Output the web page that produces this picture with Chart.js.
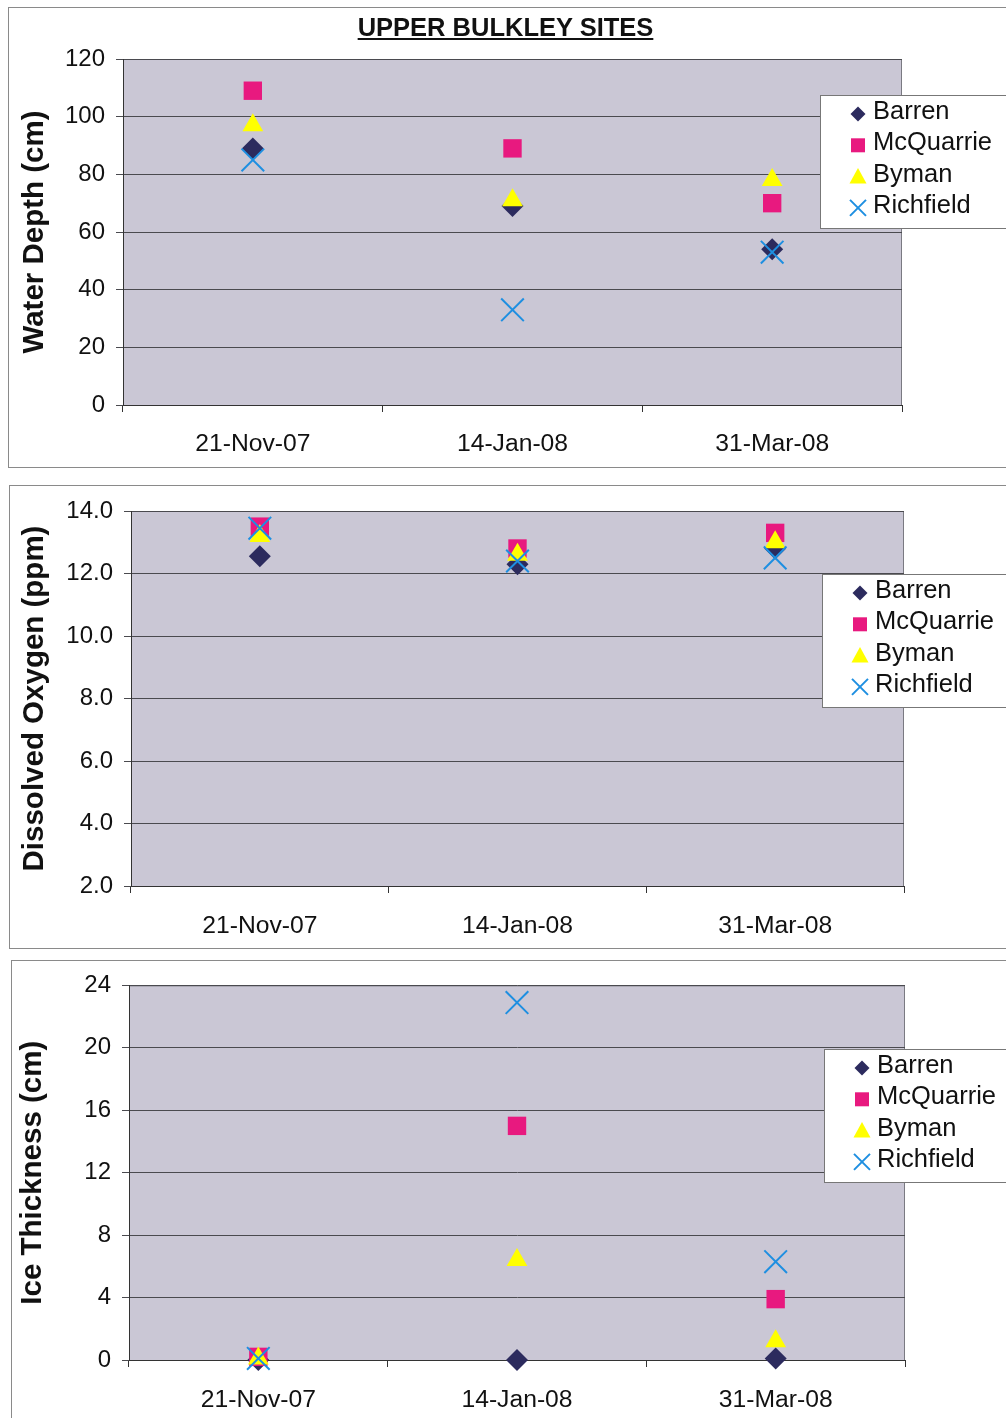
<!DOCTYPE html>
<html>
<head>
<meta charset="utf-8">
<script src="https://cdn.jsdelivr.net/npm/chart.js@4.4.0/dist/chart.umd.min.js"></script>
<style>
body { margin:0; background:#fff; width:1006px; height:1418px; position:relative; overflow:hidden; font-family:"Liberation Sans", Arial, sans-serif; }
.panel { position:absolute; border:1px solid #8a8a8a; box-sizing:border-box; }
.wrap { position:absolute; }
#title { position:absolute; left:0; width:1011px; top:13px; text-align:center; font-weight:bold; font-size:25.5px; text-decoration:underline; color:#111; }
</style>
</head>
<body>
<div class="panel" style="left:8px;top:7px;width:1010px;height:461px"></div>
<div class="panel" style="left:9px;top:485px;width:1010px;height:464px"></div>
<div class="panel" style="left:11px;top:960px;width:1010px;height:470px"></div>

<div class="wrap" style="left:8px;top:7px"><canvas id="depthChart" width="998" height="460"></canvas></div>
<div class="wrap" style="left:9px;top:485px"><canvas id="oxyChart" width="997" height="463"></canvas></div>
<div class="wrap" style="left:11px;top:960px"><canvas id="iceChart" width="995" height="458"></canvas></div>
<div id="title">UPPER BULKLEY SITES</div>

<script>
// DONNEES

const dates = ['21-Nov-07', '14-Jan-08', '31-Mar-08'];
const sites = ['Barren', 'McQuarrie', 'Byman', 'Richfield'];

// profondeur d'eau (cm)
const depthBarren = [89, 69, 54];
const depthMcQuarrie = [109, 89, 70];
const depthByman = [97, 71, 78];
const depthRichfield = [85, 33, 53];

// oxygene dissous (ppm)
const oxyBarren = [12.55, 12.3, 12.8];
const oxyMcQuarrie = [13.5, 12.8, 13.3];
const oxyByman = [13.2, 12.6, 13.0];
const oxyRichfield = [13.45, 12.4, 12.5];

// epaisseur de glace (cm)
const iceBarren = [0, 0, 0.1];
const iceMcQuarrie = [0.2, 15, 3.9];
const iceByman = [0.1, 6.4, 1.2];
const iceRichfield = [0.1, 22.9, 6.3];

const colors = ['#2c2b5e', '#e8197f', '#ffff00', '#1e8fe1'];
const styles = ['rectRot', 'rect', 'triangle', 'crossRot'];
const radius = [11, 13, 12, 16];
const font = 'Liberation Sans, Arial, sans-serif';

function drawMarker(ctx, style, x, y, s, color) {
    ctx.fillStyle = color;
    ctx.strokeStyle = color;
    ctx.beginPath();
    if (style === 'rectRot') {
        ctx.moveTo(x, y - s); ctx.lineTo(x + s, y); ctx.lineTo(x, y + s); ctx.lineTo(x - s, y);
        ctx.closePath(); ctx.fill();
    } else if (style === 'rect') {
        ctx.rect(x - s, y - s, 2 * s, 2 * s); ctx.fill();
    } else if (style === 'triangle') {
        ctx.moveTo(x, y - s); ctx.lineTo(x + s, y + s * 0.8); ctx.lineTo(x - s, y + s * 0.8);
        ctx.closePath(); ctx.fill();
    } else {
        ctx.lineWidth = 2;
        ctx.moveTo(x - s, y - s); ctx.lineTo(x + s, y + s);
        ctx.moveTo(x + s, y - s); ctx.lineTo(x - s, y + s);
        ctx.stroke();
    }
}

// fond du graphique + bord haut/droit
const plotBg = {
    id: 'plotBg',
    beforeDraw(chart) {
        const a = chart.chartArea, ctx = chart.ctx;
        ctx.save();
        ctx.fillStyle = '#cac7d5';
        ctx.fillRect(a.left, a.top, a.right - a.left, a.bottom - a.top);
        ctx.strokeStyle = '#7a7a82';
        ctx.lineWidth = 1;
        ctx.beginPath();
        ctx.moveTo(a.left, a.top + 0.5); ctx.lineTo(a.right - 0.5, a.top + 0.5); ctx.lineTo(a.right - 0.5, a.bottom);
        ctx.stroke();
        ctx.restore();
    }
};

// legende en boite
const boxLegend = {
    id: 'boxLegend',
    afterDraw(chart, args, opts) {
        const ctx = chart.ctx, x = opts.x, y = opts.y;
        ctx.save();
        ctx.fillStyle = '#fff';
        ctx.fillRect(x, y, 300, 133);
        ctx.strokeStyle = '#777';
        ctx.lineWidth = 1;
        ctx.strokeRect(x + 0.5, y + 0.5, 300, 133);
        const sizes = [7.5, 7, 8.5, 8];
        sites.forEach((name, i) => {
            const cy = y + 17 + i * 31.3;
            drawMarker(ctx, styles[i], x + 38, cy + 2, sizes[i], colors[i]);
            ctx.fillStyle = '#111';
            ctx.font = '25.5px ' + font;
            ctx.textBaseline = 'middle';
            ctx.fillText(name, x + 53, cy);
        });
        ctx.restore();
    }
};

function makeDatasets(series) {
    return series.map((values, i) => ({
        label: sites[i],
        data: values,
        showLine: false,
        pointStyle: styles[i],
        pointRadius: radius[i],
        pointHoverRadius: radius[i],
        pointBackgroundColor: colors[i],
        pointBorderColor: colors[i],
        pointBorderWidth: styles[i] === 'crossRot' ? 2 : 0,
        clip: false,
        order: 4 - i
    }));
}

function makeConfig(series, yTitle, yMin, yMax, yStep, decimals, dims) {
    return {
        type: 'line',
        data: { labels: dates, datasets: makeDatasets(series) },
        options: {
            responsive: false,
            animation: false,
            events: [],
            layout: { padding: { left: 0, top: dims.top, right: dims.right, bottom: 0 } },
            plugins: {
                legend: { display: false },
                tooltip: { enabled: false },
                boxLegend: { x: dims.legX, y: dims.legY }
            },
            scales: {
                x: {
                    type: 'category',
                    offset: true,
                    grid: { offset: true, drawOnChartArea: false, tickLength: 7, color: '#333' },
                    border: { color: '#333' },
                    ticks: { color: '#111', font: { family: font, size: 24.7 }, padding: dims.xp, maxRotation: 0 },
                    afterFit(scale) { scale.height = dims.xh; }
                },
                y: {
                    min: yMin,
                    max: yMax,
                    grid: { color: '#4a4a4f', tickLength: 7 },
                    border: { color: '#333' },
                    ticks: {
                        stepSize: yStep,
                        color: '#111',
                        font: { family: font, size: 24 },
                        padding: 11,
                        callback: v => v.toFixed(decimals)
                    },
                    title: {
                        display: true,
                        text: yTitle,
                        color: '#111',
                        font: { family: font, size: 29.5, weight: 'bold' },
                        padding: { top: dims.tp, bottom: 0 }
                    },
                    afterFit(scale) { scale.width = dims.yw; }
                }
            }
        },
        plugins: [plotBg, boxLegend]
    };
}

// GRAPH PROFONDEUR
const depthChart = new Chart(
    document.getElementById('depthChart'),
    makeConfig([depthBarren, depthMcQuarrie, depthByman, depthRichfield], 'Water Depth (cm)', 0, 120, 20, 0,
        { top: 52, right: 104, xh: 62, yw: 115, tp: 9, xp: 17, legX: 812, legY: 88 })
);

// GRAPH OXYGENE
const oxyChart = new Chart(
    document.getElementById('oxyChart'),
    makeConfig([oxyBarren, oxyMcQuarrie, oxyByman, oxyRichfield], 'Dissolved Oxygen (ppm)', 2, 14, 2, 1,
        { top: 26, right: 102, xh: 62, yw: 122, tp: 8, xp: 18, legX: 813, legY: 89 })
);

// GRAPH GLACE
const iceChart = new Chart(
    document.getElementById('iceChart'),
    makeConfig([iceBarren, iceMcQuarrie, iceByman, iceRichfield], 'Ice Thickness (cm)', 0, 24, 4, 0,
        { top: 25, right: 101, xh: 58, yw: 118, tp: 4, xp: 18, legX: 813, legY: 89 })
);
</script>
</body>
</html>
